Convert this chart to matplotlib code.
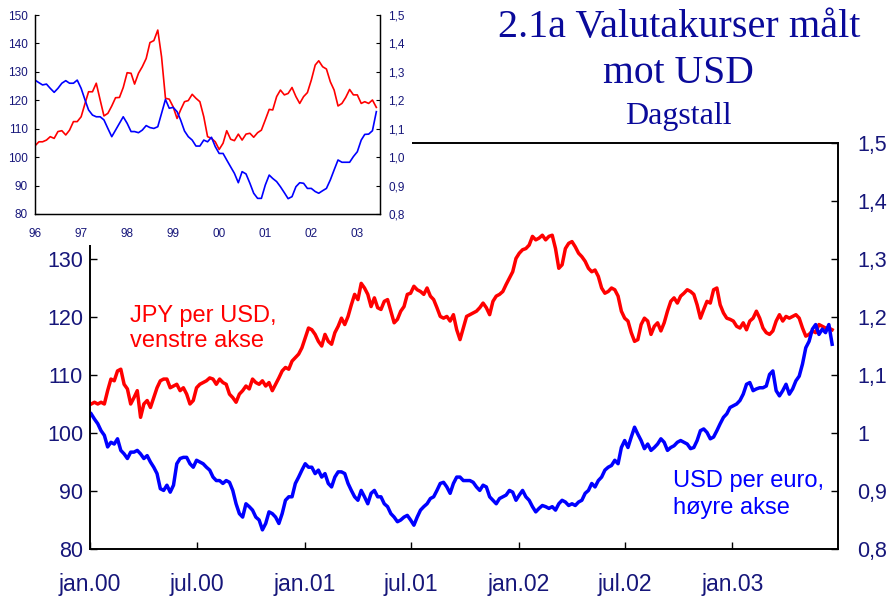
import matplotlib
matplotlib.use('Agg')
import matplotlib.pyplot as plt
from matplotlib.patches import Rectangle
import pandas as pd

plt.rcParams['font.family'] = ['Liberation Sans', 'DejaVu Sans']

# ---------------- data ----------------
# JPY per USD, daily (main chart), Jan 2000 - Jun 2003
jpy_daily = [
    105.0, 105.3, 105.0, 105.3, 105.0, 107.3, 109.3, 109.0, 110.7, 111.0,
    108.4, 107.6, 105.0, 106.1, 107.3, 102.7, 105.0, 105.6, 104.4, 106.1,
    107.8, 109.0, 109.3, 109.3, 107.8, 108.1, 108.4, 107.3, 107.8, 106.7,
    105.0, 105.6, 107.8, 108.4, 108.7, 109.0, 109.5, 109.3, 108.4,
    109.3, 108.7, 108.4, 106.7, 106.1, 105.3, 106.7, 107.3, 108.1, 107.6,
    109.3, 108.7, 108.4, 109.0, 108.1, 108.7, 107.3, 108.4, 109.5, 110.7,
    111.3, 111.0, 112.4, 113.0, 113.6, 114.7, 116.4, 118.1, 117.8, 117.0,
    115.8, 115.0, 117.0, 115.8, 115.3, 117.3, 118.4, 119.8,
    118.7, 120.1, 122.1, 123.9, 123.0, 125.8, 125.0, 123.9, 121.8, 123.3,
    121.6, 121.3, 122.7, 123.0, 121.0, 119.0, 119.6, 121.0, 121.8, 123.9,
    124.1, 125.3, 124.7, 124.4, 123.9, 125.0, 123.6, 123.0, 121.6, 120.1,
    119.8, 120.1, 119.3, 120.4, 117.8, 116.1, 118.1, 120.1, 120.4,
    120.7, 121.0, 121.6, 122.4,
    121.6, 120.4, 122.7, 123.6, 123.9, 124.4, 125.6, 126.7, 127.8, 130.1,
    131.0, 131.6, 131.8, 132.4, 133.9, 133.3, 133.6, 134.1, 133.3, 133.9,
    134.1, 131.8, 128.4, 129.0, 131.8, 132.7, 133.0, 132.1, 131.0, 130.4,
    129.6, 128.4, 127.8, 128.1, 127.0, 125.0, 124.1, 124.4, 125.0, 124.7,
    123.6, 121.0, 119.8, 119.3, 117.3, 115.8, 116.1, 118.7, 119.8, 119.3,
    117.0, 118.4, 119.0, 117.6, 119.0, 121.0, 122.7, 123.3, 122.4, 123.6,
    124.1, 124.7, 124.4, 123.9, 122.1, 119.8, 121.3, 122.7, 122.4, 124.7,
    125.0, 122.1, 120.7, 119.8, 119.6, 119.3, 118.4, 118.1, 119.0, 117.8,
    119.3, 119.8, 121.0, 119.8, 118.1, 117.3, 117.0, 117.6, 119.3, 120.4,
    119.3, 120.1, 119.8, 120.1, 120.4, 119.8, 118.1, 116.7, 117.0, 117.6,
    117.3, 118.7, 118.4, 118.1, 118.1, 117.8,
]

# USD per euro, daily (main chart)
eur_daily = [
    1.033, 1.024, 1.016, 1.004, 0.996, 0.976, 0.984, 0.981, 0.990, 0.970,
    0.964, 0.956, 0.967, 0.967, 0.970, 0.964, 0.956, 0.961, 0.950, 0.941,
    0.930, 0.904, 0.901, 0.910, 0.898, 0.910, 0.947, 0.956, 0.958, 0.958,
    0.947, 0.941, 0.953, 0.950, 0.947, 0.941, 0.936, 0.924, 0.918,
    0.918, 0.913, 0.918, 0.915, 0.901, 0.878, 0.861, 0.855, 0.878, 0.873,
    0.867, 0.855, 0.850, 0.833, 0.844, 0.864, 0.861, 0.855, 0.844, 0.861,
    0.884, 0.890, 0.890, 0.913, 0.924, 0.936, 0.947, 0.941, 0.941, 0.930,
    0.936, 0.924, 0.930, 0.913, 0.907, 0.924, 0.933, 0.933,
    0.930, 0.913, 0.901, 0.890, 0.884, 0.901, 0.890, 0.878, 0.896, 0.901,
    0.890, 0.890, 0.878, 0.873, 0.861, 0.855, 0.847, 0.850, 0.855, 0.858,
    0.850, 0.841, 0.855, 0.867, 0.873, 0.878, 0.887, 0.890, 0.901, 0.913,
    0.915, 0.907, 0.896, 0.913, 0.924, 0.924, 0.918, 0.918, 0.918,
    0.915, 0.907, 0.901, 0.910,
    0.907, 0.890, 0.884, 0.878, 0.887, 0.890, 0.893, 0.901, 0.898, 0.884,
    0.893, 0.901, 0.890, 0.884, 0.873, 0.864, 0.870, 0.875, 0.873, 0.870,
    0.873, 0.867, 0.878, 0.884, 0.881, 0.875, 0.878, 0.875, 0.881, 0.884,
    0.896, 0.901, 0.913, 0.907, 0.918, 0.924, 0.936, 0.941, 0.944, 0.953,
    0.947, 0.975, 0.987, 0.975, 0.993, 1.010, 0.998, 0.987, 0.973, 0.981,
    0.970, 0.975, 0.981, 0.990, 0.984, 0.970, 0.975, 0.978, 0.984, 0.987,
    0.984, 0.981, 0.973, 0.975, 0.987, 1.004, 1.007, 1.001, 0.990, 0.993,
    1.004, 1.016, 1.027, 1.033, 1.044, 1.047, 1.050, 1.056, 1.067, 1.084,
    1.087, 1.073, 1.076, 1.078, 1.078, 1.081, 1.101, 1.107, 1.073, 1.064,
    1.073, 1.084, 1.067, 1.076, 1.090, 1.098, 1.119, 1.147, 1.158, 1.179,
    1.187, 1.170, 1.179, 1.173, 1.187, 1.153,
]

# Inset: monthly values Jan 1996 - Jun 2003
jpy_monthly = [
    104.0, 105.4, 105.4, 106.0, 107.2, 106.6, 109.0, 109.3, 107.8, 109.5,
    112.5, 112.5, 114.2, 118.9, 123.0, 123.0, 126.0, 120.1, 114.5, 115.4,
    118.0, 120.9, 121.0, 124.5, 129.7, 129.5, 125.7, 129.5, 131.8, 134.7,
    140.3, 141.0, 144.7, 135.3, 120.7, 120.4, 117.7, 113.6, 116.6, 119.5,
    119.9, 122.1, 120.7, 119.5, 114.2, 107.2, 106.6, 105.4, 102.7, 104.9,
    109.3, 106.3, 105.8, 108.1, 106.0, 108.1, 108.4, 107.0, 108.6, 109.5,
    113.1, 116.8, 116.6, 121.3, 123.6, 121.9, 122.4, 124.5, 121.3, 118.9,
    121.3, 122.7, 127.1, 132.4, 133.9, 131.8, 131.0, 126.5, 123.6, 118.0,
    118.9, 121.0, 123.8, 121.9, 121.9, 118.9, 119.5, 118.9, 120.1, 117.5,
]
eur_monthly = [
    1.271, 1.262, 1.254, 1.257, 1.242, 1.228, 1.242, 1.260, 1.269, 1.260,
    1.260, 1.271, 1.242, 1.201, 1.166, 1.148, 1.142, 1.142, 1.131, 1.101,
    1.072, 1.095, 1.119, 1.142, 1.119, 1.090, 1.090, 1.086, 1.095, 1.111,
    1.104, 1.101, 1.107, 1.154, 1.203, 1.172, 1.175, 1.160, 1.131, 1.092,
    1.072, 1.060, 1.039, 1.039, 1.060, 1.054, 1.070, 1.037, 1.013, 1.013,
    0.990, 0.966, 0.943, 0.910, 0.949, 0.941, 0.908, 0.873, 0.855, 0.855,
    0.902, 0.937, 0.925, 0.914, 0.896, 0.875, 0.854, 0.861, 0.896, 0.910,
    0.908, 0.890, 0.890, 0.879, 0.873, 0.882, 0.890, 0.920, 0.955, 0.990,
    0.982, 0.982, 0.982, 1.002, 1.019, 1.060, 1.080, 1.081, 1.093, 1.160,
]

main_xticks = ['2000-01-01', '2000-07-01', '2001-01-01', '2001-07-01',
               '2002-01-01', '2002-07-01', '2003-01-01']
main_xticklabels = ['jan.00', 'jul.00', 'jan.01', 'jul.01', 'jan.02', 'jul.02', 'jan.03']
left_ticks = [80, 90, 100, 110, 120, 130]
right_ticks = [0.8, 0.9, 1.0, 1.1, 1.2, 1.3, 1.4, 1.5]
right_ticklabels = ['0,8', '0,9', '1', '1,1', '1,2', '1,3', '1,4', '1,5']
inset_years = ['1996-01-01', '1997-01-01', '1998-01-01', '1999-01-01',
               '2000-01-01', '2001-01-01', '2002-01-01', '2003-01-01']
inset_yearlabels = ['96', '97', '98', '99', '00', '01', '02', '03']
inset_left_ticks = [80, 90, 100, 110, 120, 130, 140, 150]
inset_right_ticklabels = ['0,8', '0,9', '1,0', '1,1', '1,2', '1,3', '1,4', '1,5']

# ---------------- style ----------------
RED = '#ff0000'
BLUE = '#0000ff'
NAVY = '#16167a'
TITLE = '#0a0a9a'
W, H = 894, 598


def fx(px):
    return px / W


def fy(py):
    return 1 - py / H


fig = plt.figure(figsize=(W / 100, H / 100), dpi=100)
fig.patch.set_facecolor('white')

# ---------------- main chart ----------------
ax = fig.add_axes([fx(90), fy(549), fx(838) - fx(90), fy(143) - fy(549)])
ax2 = ax.twinx()
dates = pd.date_range('2000-01-03', '2003-06-20', periods=len(jpy_daily))
ax.plot(dates, jpy_daily, color=RED, lw=2.5, solid_joinstyle='round')
ax2.plot(dates, eur_daily, color=BLUE, lw=2.5, solid_joinstyle='round')

ax.set_xlim(pd.Timestamp('2000-01-01'), pd.Timestamp('2003-06-30'))
ax.set_ylim(80, 150)
ax2.set_ylim(0.8, 1.5)
ax.set_yticks(left_ticks)
ax.set_yticklabels([str(t) for t in left_ticks])
ax2.set_yticks(right_ticks)
ax2.set_yticklabels(right_ticklabels)
ax.set_xticks([pd.Timestamp(d) for d in main_xticks])
ax.set_xticklabels(main_xticklabels)

ax.tick_params(axis='y', direction='in', length=5, width=1, color='black',
               pad=5, labelsize=15.5, labelcolor=NAVY)
ax.tick_params(axis='x', direction='in', length=5, width=1, color='black',
               pad=17, labelsize=16.5, labelcolor=NAVY)
ax2.tick_params(axis='y', direction='in', length=5, width=1, color='black',
                pad=14, labelsize=15.5, labelcolor=NAVY)
for a in (ax, ax2):
    for s in a.spines.values():
        s.set_linewidth(1.2)
        s.set_color('black')

fig.text(fx(130), fy(321.7), 'JPY per USD,', color=RED, fontsize=17, va='baseline')
fig.text(fx(130), fy(346.7), 'venstre akse', color=RED, fontsize=17, va='baseline')
fig.text(fx(673), fy(486.7), 'USD per euro,', color=BLUE, fontsize=17, va='baseline')
fig.text(fx(673), fy(514), 'høyre akse', color=BLUE, fontsize=17, va='baseline')

# titles
serif = ['Liberation Serif', 'DejaVu Serif']
fig.text(fx(679), fy(37), '2.1a Valutakurser målt', color=TITLE, fontsize=29,
         family=serif, ha='center', va='baseline')
fig.text(fx(678), fy(83), 'mot USD', color=TITLE, fontsize=28.5,
         family=serif, ha='center', va='baseline')
fig.text(fx(678), fy(124), 'Dagstall', color=TITLE, fontsize=23,
         family=serif, ha='center', va='baseline')

# ---------------- inset ----------------
cover = Rectangle((0, fy(245)), fx(412), 1 - fy(245), transform=fig.transFigure,
                  facecolor='white', edgecolor='none', zorder=5)
fig.add_artist(cover)

axi = fig.add_axes([fx(35), fy(214), fx(380) - fx(35), fy(15) - fy(214)], zorder=6)
axi.patch.set_facecolor('white')
axi2 = axi.twinx()
axi2.set_zorder(7)
mdates_i = pd.date_range('1996-01-01', periods=len(jpy_monthly), freq='MS')
axi.plot(mdates_i, jpy_monthly, color=RED, lw=1.2)
axi2.plot(mdates_i, eur_monthly, color=BLUE, lw=1.2)
axi.set_xlim(pd.Timestamp('1996-01-01'), pd.Timestamp('2003-06-30'))
axi.set_ylim(80, 150)
axi2.set_ylim(0.8, 1.5)
axi.set_yticks(inset_left_ticks)
axi.set_yticklabels([str(t) for t in inset_left_ticks])
axi2.set_yticks(right_ticks)
axi2.set_yticklabels(inset_right_ticklabels)
axi.set_xticks([pd.Timestamp(d) for d in inset_years])
axi.set_xticklabels(inset_yearlabels)
axi.tick_params(axis='y', direction='in', length=3, width=0.8, pad=5,
                labelsize=8.5, labelcolor=NAVY)
axi.tick_params(axis='x', direction='in', length=0, pad=10,
                labelsize=8.5, labelcolor=NAVY)
axi2.tick_params(axis='y', direction='in', length=3, width=0.8, pad=6,
                 labelsize=8.5, labelcolor=NAVY)
for a in (axi, axi2):
    a.spines['top'].set_visible(False)
    for k in ('left', 'right', 'bottom'):
        a.spines[k].set_linewidth(0.9)

fig.savefig('out.png', dpi=100)
